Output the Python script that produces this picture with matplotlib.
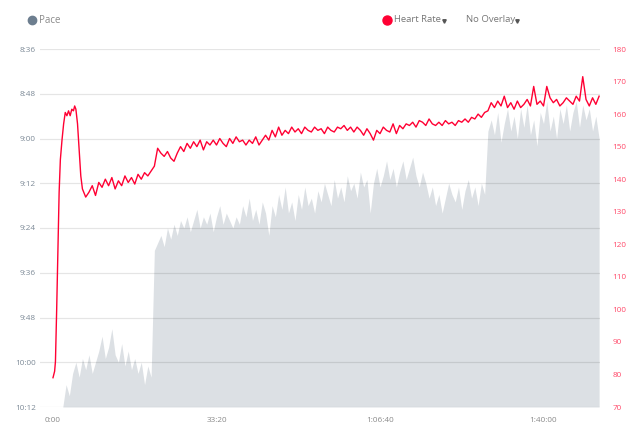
import numpy as np
import matplotlib; matplotlib.use("Agg")
import matplotlib.pyplot as plt
from matplotlib.lines import Line2D

# heart rate (bpm) vs elapsed seconds
hr_t_start = [0, 20, 30, 45, 60, 75, 90, 110, 130, 150, 170, 190, 210, 230, 250, 265, 280, 300, 320, 340]
hr_start = [79, 81, 84, 100, 118, 136, 146, 152, 157, 160.5, 159.5, 161, 159.5, 161.5, 161, 162.5, 161.5, 157, 149, 141]
hr_t_main = np.arange(360, 6681, 40)
hr_main = [
    137, 134.5, 136, 138, 135, 139, 137.5, 140, 138, 140.5,
    137, 139.5, 138, 141, 139, 140.5, 138.5, 141.5, 140, 142,
    141, 142.5, 144, 149.5, 148, 147, 148.5, 146.5, 145.5, 148,
    150, 148.5, 151, 149.5, 151.5, 150, 152, 149, 151.5, 150.5,
    152, 150.5, 152.5, 151, 150, 152.5, 151, 153, 151.5, 152,
    150.5, 152, 151, 153, 150.5, 152, 153.5, 152, 155, 153,
    156, 153.5, 155, 154, 156, 154.5, 155.5, 154, 156, 155,
    154.5, 156, 155, 155.5, 154, 156, 155, 154.5, 156, 155.5,
    156.5, 155, 156, 154.5, 156, 155, 153.5, 155.5, 154, 152,
    155, 154, 156, 155, 154.5, 157, 154, 156.5, 155.5, 157,
    156.5, 157.5, 156, 158, 157.5, 156.5, 158.5, 157, 156.5, 157.5,
    156.5, 158, 157, 157.5, 156.5, 158, 157.5, 158.5, 157.5, 159,
    158.5, 160, 159, 160.5, 161, 163.5, 162, 164, 162.5, 165.5,
    162, 163.5, 161.5, 164, 162, 163, 164.5, 162.5, 168.5, 163,
    164, 162.5, 168.5, 165, 163.5, 164.5, 162.5, 163.5, 165, 164,
    163, 165.5, 164, 171.5, 164.5, 162.5, 165, 163, 165.5,
]
hr_t = np.concatenate([hr_t_start, hr_t_main])
hr = np.concatenate([hr_start, hr_main])

# pace (seconds per mile) vs elapsed seconds
pace_t = np.arange(120, 6681, 40)
pace = [
    612, 606, 609, 603, 600, 604, 599, 602, 598, 603,
    600, 597, 593, 599, 596, 591, 598, 600, 595, 601,
    597, 602, 599, 603, 600, 606, 601, 604, 570, 568,
    566, 569, 564, 567, 563, 566, 562, 564, 561, 565,
    562, 559, 564, 561, 563, 560, 565, 561, 558, 563,
    560, 562, 564, 561, 563, 558, 561, 556, 562, 559,
    563, 557, 560, 566, 558, 561, 555, 559, 553, 560,
    557, 562, 555, 559, 553, 558, 556, 560, 554, 557,
    552, 555, 558, 551, 556, 553, 557, 550, 554, 552,
    556, 549, 553, 551, 560, 552, 548, 553, 550, 546,
    551, 548, 553, 549, 546, 551, 548, 545, 550, 553,
    549, 552, 556, 553, 558, 555, 560, 556, 552, 555,
    557, 553, 559, 554, 551, 556, 553, 558, 552, 555,
    538, 535, 539, 533, 541, 536, 532, 538, 534, 540,
    532, 537, 531, 539, 535, 542, 533, 536, 530, 538,
    534, 540, 532, 536, 531, 538, 533, 530, 537, 531,
    535, 532, 538, 534, 540,
]

pace_ticks = np.arange(516, 613, 12)
pace_labels = ["%d:%02d" % (s // 60, s % 60) for s in pace_ticks]
hr_ticks = np.arange(70, 181, 10)
x_ticks = [0, 2000, 4000, 6000]
x_labels = ["0:00", "33:20", "1:06:40", "1:40:00"]

RED, FILL, LGRY, RLBL = "#ff0033", "#dce0e4", "#7d8a97", "#ff4a6a"
plt.rcParams["font.family"] = ["Open Sans", "DejaVu Sans"]

fig = plt.figure(figsize=(6.4, 4.38), dpi=100)
ax = fig.add_axes([40/640, 31/438, 560/640, 358/438])
ax.set_xlim(-159, 6691)
ax.set_ylim(612, 516)
ax.fill_between(pace_t, pace, 612, color=FILL, lw=0, zorder=1)
for p in pace_ticks:
    ax.axhline(p, color="k", alpha=0.1, lw=0.9, zorder=2)
ax.set_yticks(pace_ticks); ax.set_yticklabels(pace_labels)
ax.set_xticks(x_ticks); ax.set_xticklabels(x_labels)
ax.tick_params(axis="y", length=0, pad=3, labelsize=5.9, labelcolor=LGRY)
ax.tick_params(axis="x", length=0, pad=7, labelsize=5.9, labelcolor="#8a8a8a")
for s in ax.spines.values():
    s.set_visible(False)

ax2 = ax.twinx()
ax2.set_ylim(70, 180)
ax2.plot(hr_t, hr, color=RED, lw=1.0, zorder=3)
ax2.set_yticks(hr_ticks)
ax2.tick_params(axis="y", length=0, pad=9, labelsize=5.9, labelcolor=RLBL)
for s in ax2.spines.values():
    s.set_visible(False)

# header legend
def px(x, y):
    return x/640, 1 - y/438

def dot(x, y, ms, color, marker="o"):
    fx, fy = px(x, y)
    fig.add_artist(Line2D([fx], [fy], marker=marker, ms=ms, color=color, lw=0,
                          transform=fig.transFigure))

dot(32, 20, 6, "#6d7e8f")
fig.text(*px(39, 20.5), "Pace", fontsize=7, color="#8a8a8a", va="center")
dot(387, 19.5, 6.5, RED)
fig.text(*px(394, 20), "Heart Rate", fontsize=6.8, color="#777777", va="center")
dot(444, 21, 2.5, "#555555", marker="v")
fig.text(*px(466, 20), "No Overlay", fontsize=6.8, color="#777777", va="center")
dot(517, 21, 2.5, "#555555", marker="v")

fig.savefig("out.png", dpi=100)
